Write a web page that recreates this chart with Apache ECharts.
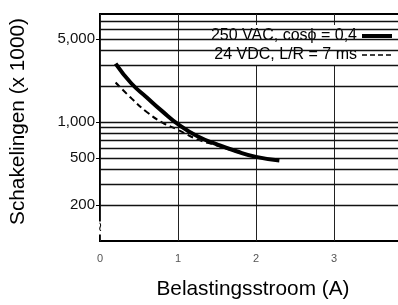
<!DOCTYPE html>
<html>
<head>
<meta charset="utf-8">
<script src="https://cdn.jsdelivr.net/npm/echarts@6/dist/echarts.min.js"></script>
<style>
  html, body { margin: 0; padding: 0; background: #fff; overflow: hidden; }
  /* plot runs past the right edge, like the cropped original */
  #chart { width: 418px; height: 305px; }
</style>
</head>
<body>
<div id="chart"></div>
<script>
// Switching cycles vs load current (log y axis)
const acCurrent = [0.2, 0.4, 0.6, 0.8, 1.0, 1.25, 1.5, 1.75, 2.0, 2.3];
const acCycles = [3100, 2120, 1610, 1230, 960, 760, 650, 568, 510, 475];

const dcCurrent = [0.2, 0.4, 0.6, 0.8, 1.0, 1.25, 1.5, 1.75, 2.0];
const dcCycles = [2150, 1590, 1215, 990, 860, 715, 635, 562, 505];

const gridValues = [200, 300, 400, 500, 600, 700, 800, 900, 1000, 2000, 3000, 4000, 5000, 6000, 7000];
const yLabelValues = [200, 500, 1000, 5000];
const seriesNames = ['250 VAC, cos\u03D5 = 0,4', '24 VDC, L/R = 7 ms'];

const font = '"Liberation Sans", Arial, sans-serif';
const chart = echarts.init(document.getElementById('chart'));

const pairs = (xs, ys) => xs.map((x, i) => [x, ys[i]]);

const option = {
    animation: false,
    backgroundColor: '#fff',
    textStyle: { fontFamily: font },
    grid: {
        left: 100,
        right: 0,
        top: 14,
        bottom: 62,
        show: true,
        borderColor: '#000',
        borderWidth: 2,
        backgroundColor: 'transparent'
    },
    legend: {
        orient: 'vertical',
        right: 22,
        top: 25,
        align: 'right',
        itemWidth: 30,
        itemHeight: 14,
        itemGap: 3,
        padding: [3, 2, 3, 3],
        backgroundColor: '#fff',
        itemStyle: { color: 'rgba(0,0,0,0)', borderWidth: 0 },
        textStyle: { fontSize: 16, color: '#000', fontFamily: font },
        data: [
            { name: seriesNames[0], lineStyle: { width: 4, color: '#000' } },
            { name: seriesNames[1], lineStyle: { width: 1.6, color: '#000', type: [5, 3] } }
        ]
    },
    xAxis: {
        type: 'value',
        min: 0,
        max: 4,
        interval: 1,
        name: 'Belastingsstroom (A)',
        nameLocation: 'middle',
        nameGap: 38,
        nameTextStyle: { fontSize: 20.8, color: '#000', padding: [0, 6, 0, 0] },
        axisLine: { show: false },
        axisTick: { show: false },
        axisLabel: { color: '#555', fontSize: 11, margin: 12 },
        splitLine: { show: true, lineStyle: { color: '#222', width: 1 } }
    },
    yAxis: {
        type: 'log',
        logBase: 10,
        min: 100,
        max: 8100,
        name: 'Schakelingen (x 1000)',
        nameLocation: 'middle',
        nameGap: 71,
        nameTextStyle: { fontSize: 20.8, color: '#000', padding: [0, 0, 0, 12] },
        axisLine: { show: false },
        axisTick: { show: true, length: 4, customValues: yLabelValues, lineStyle: { color: '#000' } },
        axisLabel: {
            customValues: yLabelValues,
            fontSize: 15,
            color: '#111',
            margin: 5,
            formatter: v => Number(v).toLocaleString('en-US')
        },
        splitLine: { show: false }
    },
    series: [
        {
            name: seriesNames[0],
            type: 'line',
            smooth: true,
            symbol: 'none',
            data: pairs(acCurrent, acCycles),
            lineStyle: { color: '#000', width: 4 },
            itemStyle: { color: '#000' },
            z: 5,
            markLine: {
                silent: true,
                symbol: 'none',
                label: { show: false },
                lineStyle: { color: '#111', width: 1.3, type: 'solid' },
                data: gridValues.map(v => ({ yAxis: v }))
            }
        },
        {
            name: seriesNames[1],
            type: 'line',
            smooth: true,
            symbol: 'none',
            data: pairs(dcCurrent, dcCycles),
            lineStyle: { color: '#000', width: 2, type: [6, 4] },
            itemStyle: { color: '#000' },
            z: 4
        }
    ],
    // axis-break squiggle on the y axis near the bottom
    graphic: [{
        type: 'text',
        x: 100,
        y: 228,
        z: 10,
        style: {
            text: '\u2240',
            fontSize: 13,
            fontFamily: 'DejaVu Sans',
            fill: '#000',
            align: 'center',
            verticalAlign: 'middle',
            backgroundColor: '#fff'
        }
    }]
};

chart.setOption(option);
</script>
</body>
</html>
